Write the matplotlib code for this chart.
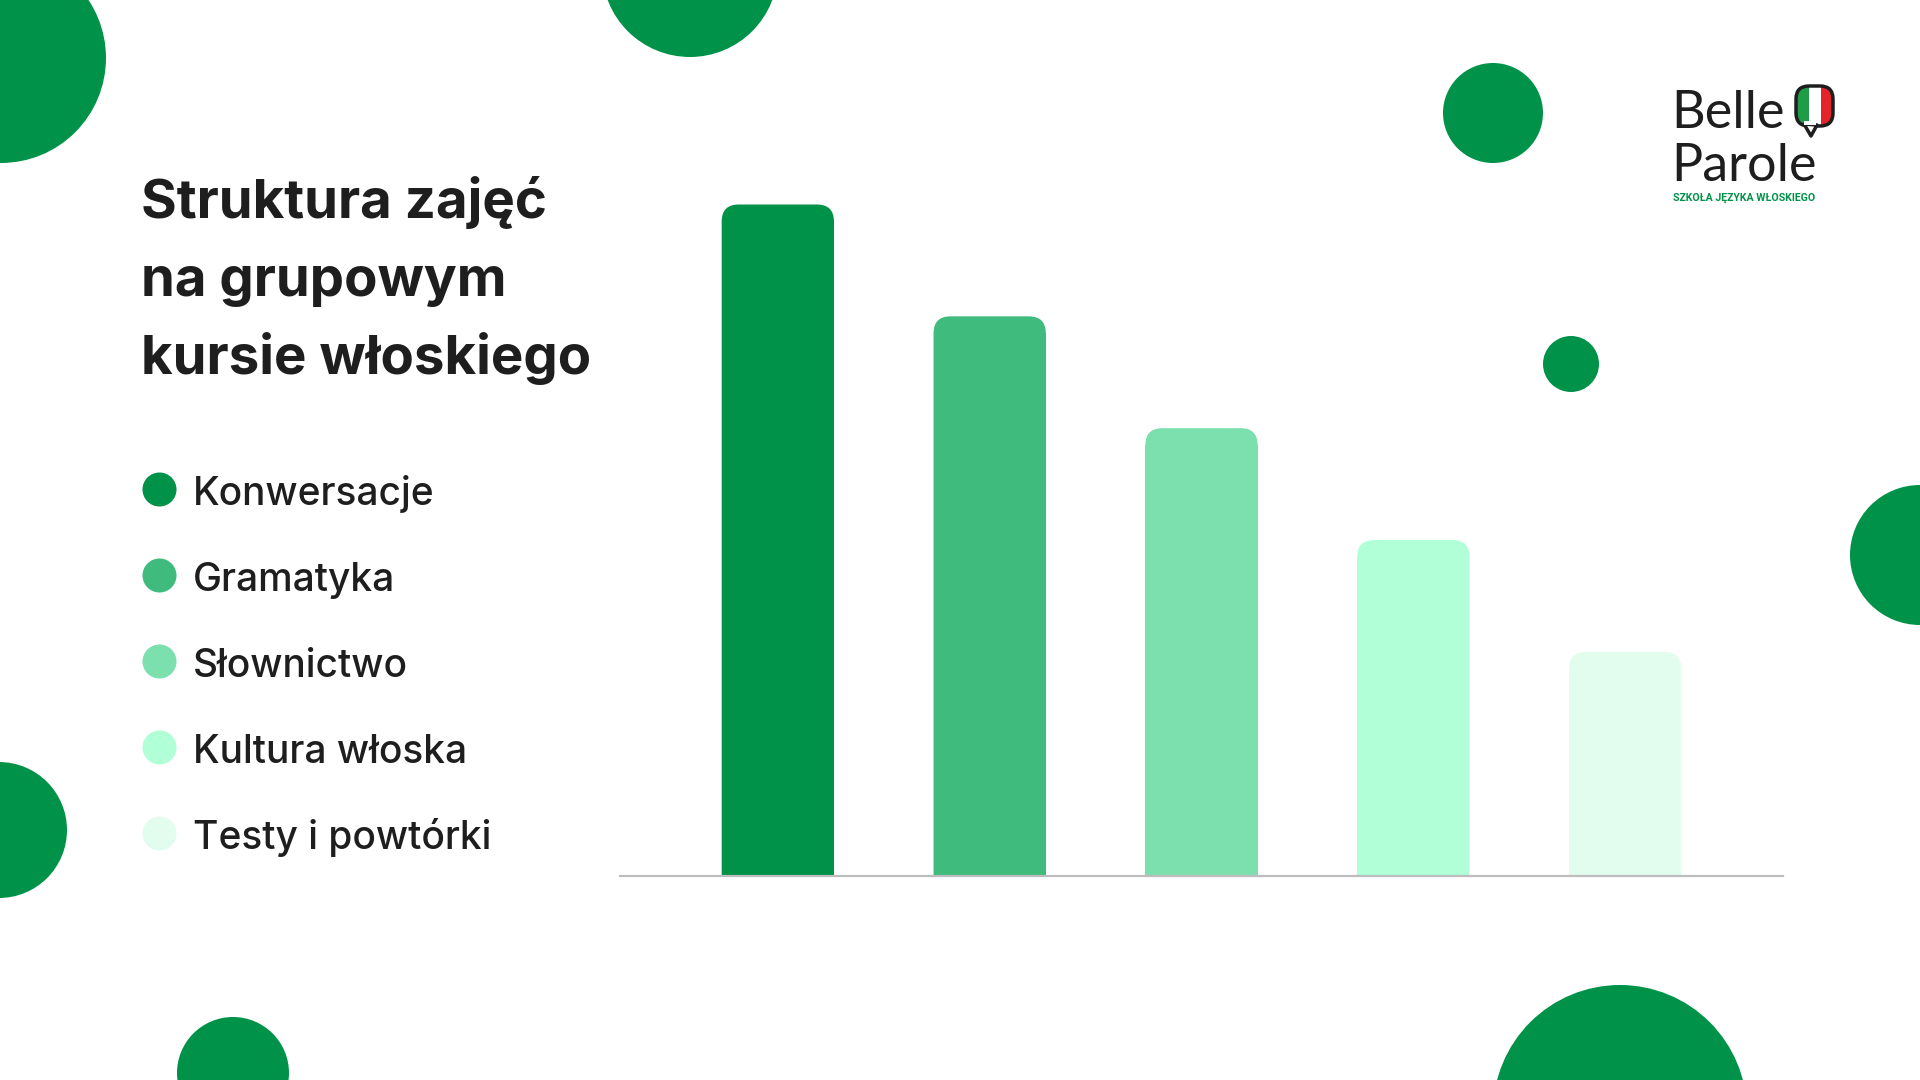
import numpy as np
import matplotlib
matplotlib.use('Agg')
import matplotlib.pyplot as plt
from matplotlib.patches import Circle, FancyBboxPatch, Rectangle, Polygon
from matplotlib import font_manager

# chart data
categories = ['Konwersacje', 'Gramatyka', 'Słownictwo', 'Kultura włoska', 'Testy i powtórki']
values = [30, 25, 20, 15, 10]
colors = ['#009249', '#3FBC7D', '#7BE0AE', '#B1FFD6', '#E2FDEE']
title_lines = ['Struktura zajęć', 'na grupowym', 'kursie włoskiego']

GREEN = '#009249'
INK = '#1E1E1E'
W, H = 1920, 1080

installed = {f.name for f in font_manager.fontManager.ttflist}
narrow = 'Liberation Sans Narrow' if 'Liberation Sans Narrow' in installed else 'Roboto'

fig = plt.figure(figsize=(19.2, 10.8), dpi=100)
fig.patch.set_facecolor('white')

# background layer in pixel coordinates (y down)
bg = fig.add_axes([0, 0, 1, 1])
bg.set_xlim(0, W)
bg.set_ylim(H, 0)
bg.axis('off')

# decorative circles
for cx, cy, r in [(1, 58, 105), (690, -31, 88), (1493, 113, 50), (1571, 364, 28),
                  (1920, 555, 70), (-1, 830, 68), (233, 1073, 56), (1620, 1112, 127)]:
    bg.add_patch(Circle((cx, cy), r, color=GREEN, lw=0))

# title
for i, line in enumerate(title_lines):
    bg.text(141, 218 + i * 78, line, fontsize=39.3, fontweight='bold', family='Inter',
            color=INK, va='baseline', ha='left')

# legend
for i, (cat, c) in enumerate(zip(categories, colors)):
    y = 489 + i * 86
    bg.scatter([159], [y], s=600, color=c, lw=0)
    bg.text(193, y + 16, cat, fontsize=28, fontweight='medium', family='Inter',
            color=INK, va='baseline', ha='left')

# logo
bg.text(1671, 128, 'Belle', fontsize=37.5, family='Lato', color=INK, va='baseline')
bg.text(1671, 181, 'Parole', fontsize=37.5, family='Lato', color=INK, va='baseline')
bg.text(1673, 201, 'SZKOŁA JĘZYKA WŁOSKIEGO', fontsize=7.6, fontweight='bold',
        family=narrow, color=GREEN, va='baseline')
bubble = FancyBboxPatch((1796, 86), 37, 40, boxstyle='round,pad=0,rounding_size=13',
                        fc='white', ec='none')
bg.add_patch(bubble)
for x0, col in [(1796, '#1E9C48'), (1808.5, 'white'), (1821, '#E3242B')]:
    rect = Rectangle((x0, 86), 12.5, 40, fc=col, ec='none')
    bg.add_patch(rect)
    rect.set_clip_path(bubble)
bg.add_patch(FancyBboxPatch((1796, 86), 37, 40, boxstyle='round,pad=0,rounding_size=13',
                            fc='none', ec=INK, lw=2.5))
bg.add_patch(Polygon([(1804, 124), (1811, 136), (1817, 125)], closed=True,
                     fc='white', ec=INK, lw=2.5, joinstyle='round'))
bg.add_patch(Rectangle((1804, 121), 12, 4, fc='white', ec='none'))

# bar chart
ax = fig.add_axes([620 / W, (H - 875.5) / H, (1783 - 620) / W, 671 / H])
x = np.arange(len(values))
ax.set_xlim(-0.745, len(values) - 1 + 0.745)
ax.set_ylim(0, max(values))
ax.set_facecolor('none')
bw = 0.53

px_x = (1783 - 620) / (len(values) - 1 + 2 * 0.745)
px_y = 671 / max(values)
r_px = 17
rx, ry = r_px / px_x, r_px / px_y

ax.bar(x, [v - ry for v in values], width=bw, color=colors, lw=0)
for xi, v, c in zip(x, values, colors):
    # rounded top; bottom corners pushed below the axis and clipped away
    ax.add_patch(FancyBboxPatch((xi - bw / 2, -ry), bw, v + ry,
                                boxstyle=f'round,pad=0,rounding_size={rx}',
                                mutation_aspect=ry / rx, fc=c, ec='none'))

for s in ['top', 'right', 'left']:
    ax.spines[s].set_visible(False)
ax.spines['bottom'].set_color('#BDBDBD')
ax.spines['bottom'].set_linewidth(1.6)
ax.spines['bottom'].set_zorder(5)
ax.set_xticks([])
ax.set_yticks([])

fig.savefig('out.png', dpi=100, facecolor='white')
